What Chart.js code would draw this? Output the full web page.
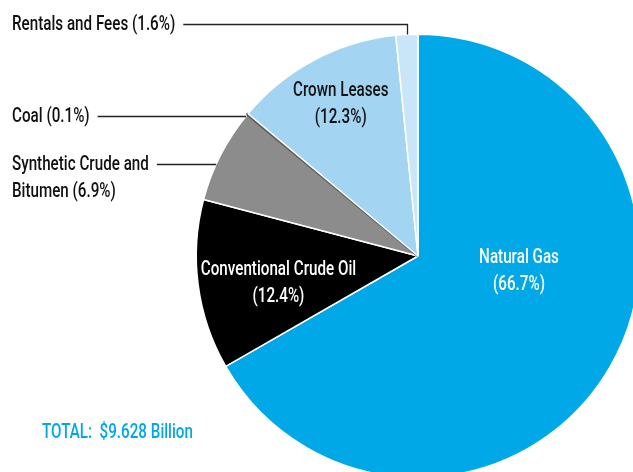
<!DOCTYPE html>
<html>
<head>
<meta charset="utf-8">
<script src="https://cdn.jsdelivr.net/npm/chart.js@4.4.0/dist/chart.umd.min.js"></script>
<style>
  html, body { margin: 0; padding: 0; background: #fff; overflow: hidden; width: 633px; height: 472px; }
  #wrap { position: absolute; left: 0; top: 0; width: 900px; height: 700px; }
</style>
</head>
<body>
<div id="wrap"><canvas id="pie" width="900" height="700"></canvas></div>
<script>
(function() {
    'use strict';

    const categories = ['Natural Gas', 'Conventional Crude Oil', 'Synthetic Crude and Bitumen', 'Coal', 'Crown Leases', 'Rentals and Fees'];
    const shares = [66.7, 12.4, 6.9, 0.1, 12.3, 1.6];
    const colors = ['#00a8e8', '#000000', '#8c8c8c', '#5a5a5a', '#a3d5f3', '#c9e5f8'];
    const totalLabel = 'TOTAL:  $9.628 Billion';

    const FONT = '500 20px Roboto, "Liberation Sans", sans-serif';
    const SX = 0.76; // squeeze text to look like a condensed face

    // labels inside slices: radius factor + angle shift (deg) from slice middle
    const inside = {
        0: { r: 0.46, shift: -22, color: '#ffffff', lines: ['Natural Gas'] },
        1: { r: 0.64, shift: -3, color: '#ffffff', lines: ['Conventional Crude Oil'] },
        4: { r: 0.77, shift: 1, color: '#111111', lines: ['Crown Leases'] }
    };
    // labels outside with leader lines
    const outside = {
        5: { y: 24, lines: ['Rentals and Fees'], mode: 'top' },
        3: { y: 116, lines: ['Coal'], mode: 'side' },
        2: { y: 164, lines: ['Synthetic Crude and', 'Bitumen'], mode: 'side' }
    };

    function text(ctx, t, x, y) {
        ctx.save();
        ctx.translate(x, y);
        ctx.scale(SX, 1);
        ctx.fillText(t, 0, 0);
        ctx.restore();
        return ctx.measureText(t).width * SX;
    }

    const labelPlugin = {
        id: 'sliceLabels',
        afterDraw: function(chart) {
            const ctx = chart.ctx;
            const arcs = chart.getDatasetMeta(0).data;
            ctx.save();
            ctx.font = FONT;
            ctx.textBaseline = 'middle';

            arcs.forEach(function(arc, i) {
                const pct = '(' + shares[i].toFixed(1) + '%)';
                const mid = (arc.startAngle + arc.endAngle) / 2;
                if (inside[i]) {
                    const cfg = inside[i];
                    const a = mid + cfg.shift * Math.PI / 180;
                    const cx = arc.x + Math.cos(a) * arc.outerRadius * cfg.r;
                    const cy = arc.y + Math.sin(a) * arc.outerRadius * cfg.r;
                    const lines = cfg.lines.concat([pct]);
                    ctx.fillStyle = cfg.color;
                    ctx.textAlign = 'center';
                    lines.forEach(function(t, k) {
                        text(ctx, t, cx, cy + 1 + (k - (lines.length - 1) / 2) * 27);
                    });
                }
                if (outside[i]) {
                    const cfg = outside[i];
                    const lines = cfg.lines.slice();
                    lines[lines.length - 1] += ' ' + pct;
                    ctx.fillStyle = '#111111';
                    ctx.textAlign = 'left';
                    let w = 0;
                    lines.forEach(function(t, k) {
                        const tw = text(ctx, t, 12, cfg.y + 1 + k * 27);
                        if (k === 0) w = tw;
                    });
                    ctx.strokeStyle = '#222222';
                    ctx.lineWidth = 1.3;
                    ctx.beginPath();
                    const x0 = 12 + w + 8;
                    if (cfg.mode === 'top') {
                        const ex = Math.round(arc.x + Math.cos(mid) * arc.outerRadius) + 0.5;
                        const ey = arc.y + Math.sin(mid) * arc.outerRadius;
                        ctx.moveTo(x0, cfg.y + 0.5);
                        ctx.lineTo(ex, cfg.y + 0.5);
                        ctx.lineTo(ex, ey);
                    } else {
                        const dy = cfg.y - arc.y;
                        const ex = arc.x - Math.sqrt(arc.outerRadius * arc.outerRadius - dy * dy);
                        ctx.moveTo(x0, cfg.y + 0.5);
                        ctx.lineTo(ex, cfg.y + 0.5);
                    }
                    ctx.stroke();
                }
            });

            ctx.fillStyle = '#00a8e8';
            ctx.textAlign = 'left';
            text(ctx, totalLabel, 42, 433);
            ctx.restore();
        }
    };

    new Chart(document.getElementById('pie'), {
        type: 'pie',
        data: {
            labels: categories,
            datasets: [{
                data: shares,
                backgroundColor: colors,
                borderColor: ['#ffffff', '#ffffff', '#ffffff', '#5a5a5a', '#ffffff', '#ffffff'],
                borderWidth: [1.5, 1.5, 1.5, 2.5, 1.5, 1.5]
            }]
        },
        options: {
            responsive: false,
            animation: false,
            layout: { padding: { left: 195, top: 33, right: 259, bottom: 221 } },
            plugins: {
                legend: { display: false },
                tooltip: { enabled: false }
            }
        },
        plugins: [labelPlugin]
    });
})();
</script>
</body>
</html>
